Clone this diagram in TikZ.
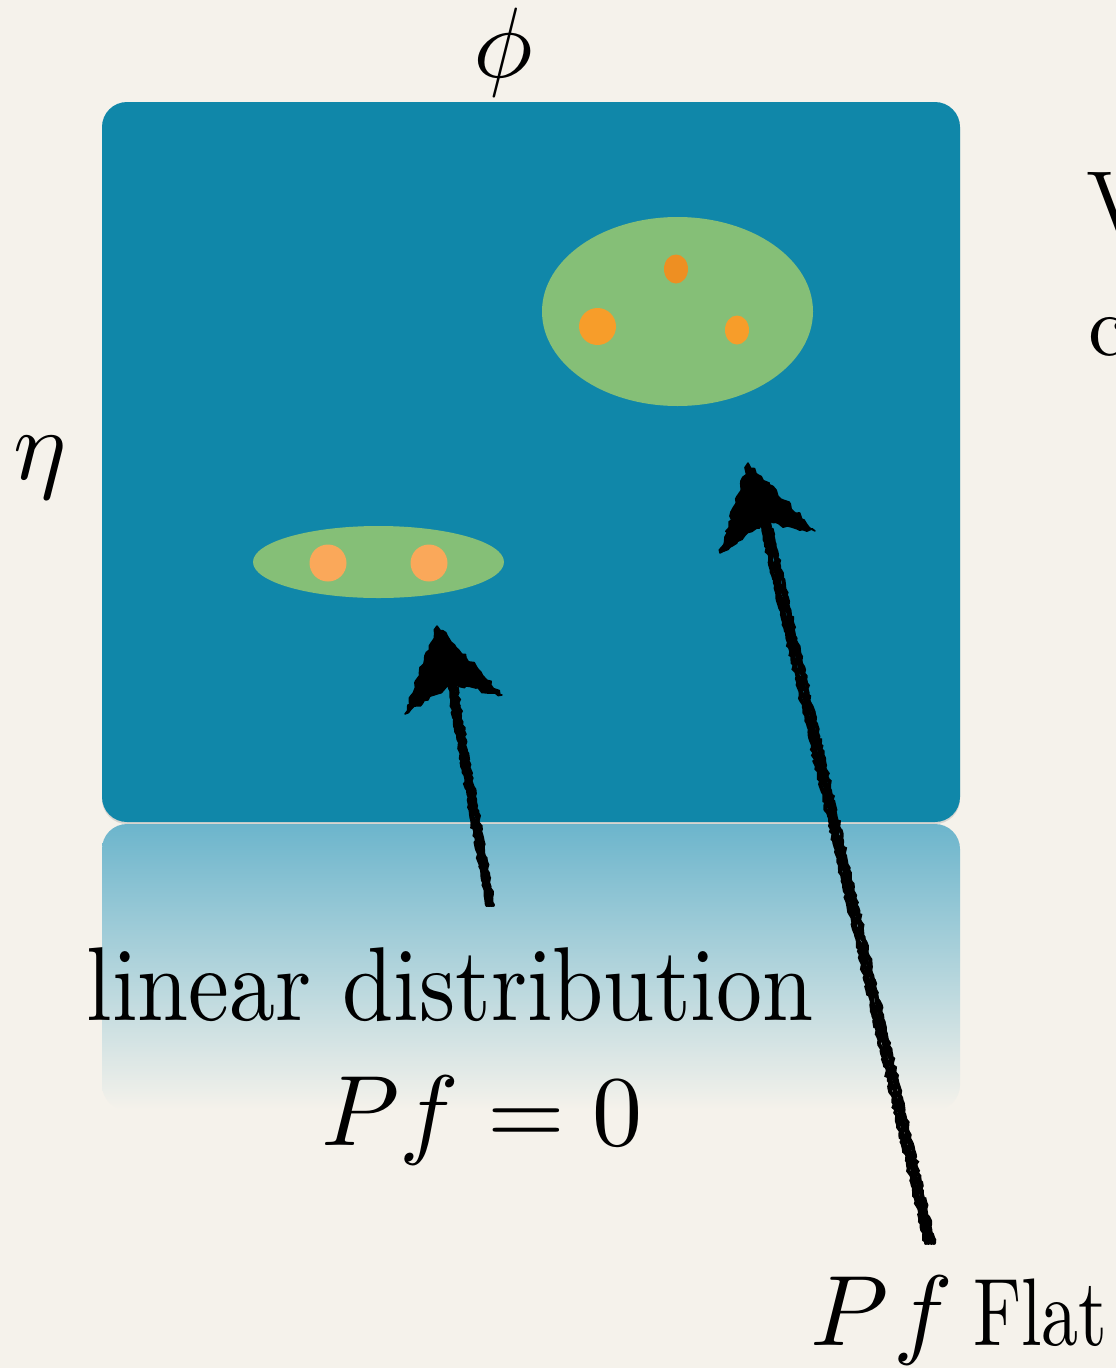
\documentclass[tikz,border=0pt]{standalone}
\usetikzlibrary{decorations.pathmorphing,shadows}
\definecolor{bg}{RGB}{245,242,235}
\definecolor{panel}{RGB}{16,135,169}
\definecolor{blob}{RGB}{133,191,119}
\definecolor{dotA}{RGB}{247,157,42}
\definecolor{dotB}{RGB}{238,143,34}
\definecolor{dotC}{RGB}{250,168,90}
\definecolor{refl}{RGB}{108,181,204}
\tikzset{
  lbl/.style={inner sep=0pt, outer sep=0pt, text=black},
  mathlbl/.style={lbl, scale=10},
  chalk/.style={draw=black, line width=4pt, line cap=round,
    decorate, decoration={random steps, segment length=3pt, amplitude=1.3pt}},
  chalkhead/.style={fill=black, draw=black, line width=1.5pt, line join=round,
    decorate, decoration={random steps, segment length=4pt, amplitude=2pt}},
  blobstyle/.style={fill=blob},
}
\begin{document}
\begin{tikzpicture}[x=1pt,y=-1pt]
\useasboundingbox (0,0) rectangle (1116,1368);
\fill[bg] (0,0) rectangle (1116,1368);
% reflection
\shade[top color=refl, bottom color=bg, rounded corners=25pt] (102,824) rectangle (960,1110);
% panel
\fill[panel, rounded corners=25pt, drop shadow={opacity=0.25, shadow xshift=0pt, shadow yshift=-2pt}] (102,102) rectangle (960,822);
% blobs
\fill[blobstyle] (677.5,311.5) ellipse [x radius=135.5, y radius=94.5];
\fill[dotB] (676,269) ellipse [x radius=12, y radius=14.5];
\fill[dotA] (597.5,326.5) circle [radius=18.5];
\fill[dotA] (737,330) ellipse [x radius=12, y radius=14.5];
\fill[blobstyle] (378.5,562) ellipse [x radius=125.5, y radius=36];
\fill[dotC] (328,563) circle [radius=18.5];
\fill[dotC] (429,563) circle [radius=18.5];
% labels
\node[mathlbl] (phi) at (503,52) {$\phi$};
\node[mathlbl] (eta) at (40,468) {$\eta$};
\node[lbl, xscale=9.2, yscale=10.5, anchor=base] (lin) at (450,1020) {linear distribution};
\node[mathlbl, anchor=base] (pf0) at (482,1145) {$Pf=0$};
\node[mathlbl, anchor=base west] (pf) at (810,1345) {$P\mkern1mu f$};
\node[lbl, xscale=7.4, yscale=9.6, anchor=base west] (flat) at (973,1345) {Flat};
\node[lbl, scale=8.5, anchor=base west] (v) at (1086,230) {V};
\node[lbl, scale=8.5, anchor=base west] (c) at (1088,355) {c};
% arrow 1
\coordinate (a1tip) at (437,626);
\coordinate (a1l) at (405,714);
\coordinate (a1r) at (502,695);
\coordinate (a1n) at (452,684);
\coordinate (a1s) at (490,905);
\foreach \dx in {-3,-1,1,3}
  \draw[chalk] ([xshift=\dx pt]a1n) -- ([xshift=\dx pt]a1s);
\filldraw[chalkhead] (a1tip) -- (a1r) -- (a1n) -- (a1l) -- cycle;
% arrow 2
\coordinate (a2tip) at (748,463);
\coordinate (a2l) at (720,553);
\coordinate (a2r) at (815,531);
\coordinate (a2n) at (765,522);
\coordinate (a2s) at (930,1243);
\foreach \dx in {-4,-1.5,1.5,4}
  \draw[chalk] ([xshift=\dx pt]a2n) -- ([xshift=\dx pt]a2s);
\filldraw[chalkhead] (a2tip) -- (a2r) -- (a2n) -- (a2l) -- cycle;
\end{tikzpicture}
\end{document}
